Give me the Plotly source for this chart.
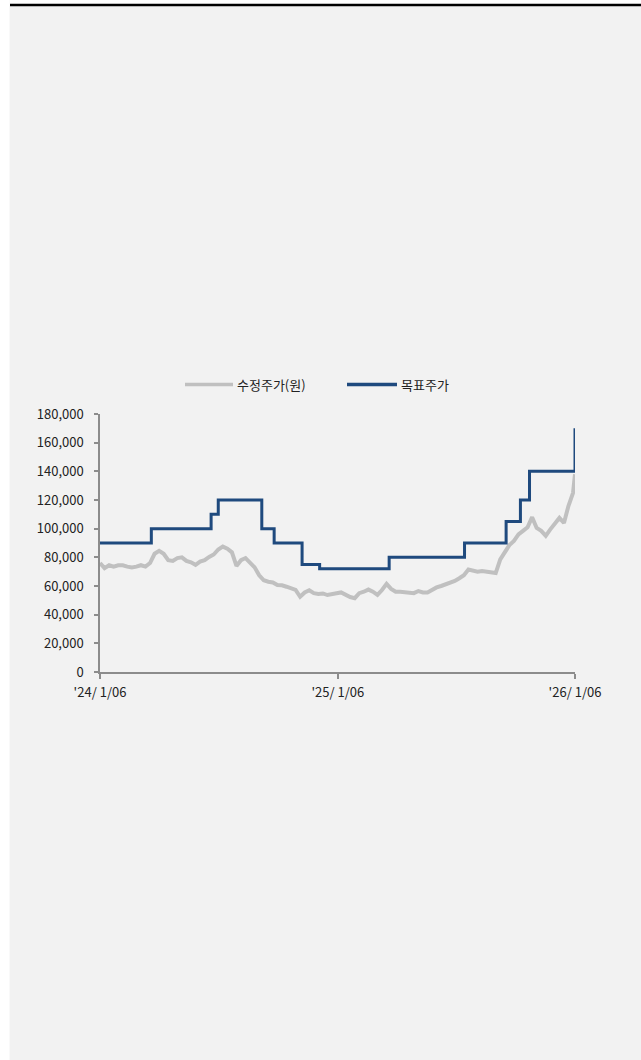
import pandas as pd
import plotly.graph_objects as go

# 수정주가 (weekly readings, won)
price_dates = list(pd.date_range("2024-01-06", periods=105, freq="7D").strftime("%Y-%m-%d")) + ["2026-01-06"]
price_values = [
    76000, 72500, 74500, 73500, 74500, 74500, 73500, 73000, 73500, 74500,
    73500, 76000, 82500, 84500, 82500, 78000, 77500, 79500, 80000, 77500,
    76500, 74800, 77000, 78000, 80300, 82000, 85500, 87500, 86000, 83500,
    74000, 78000, 79500, 76500, 73000, 67500, 64000, 63000, 62500, 60700,
    60500, 59500, 58400, 57300, 52500, 55500, 57000, 55000, 54500, 54800,
    53700, 54000, 55000, 55500, 53500, 52300, 51500, 55000, 56000, 57500,
    56000, 53800, 57200, 61500, 58000, 56000, 56000, 55500, 55000, 55000,
    56500, 55500, 55500, 57500, 59000, 60000, 61000, 62000, 63500, 65400,
    67500, 71500, 71000, 70000, 70500, 70000, 69500, 69000, 78500, 83000,
    88500, 91500, 96000, 98500, 101000, 108000, 100500, 98500, 95000, 99500,
    104000, 107500, 104000, 116000, 125000, 138000,
]

# 목표주가 (step changes, won)
target_dates = [
    "2024-01-06", "2024-03-25", "2024-06-25", "2024-07-06", "2024-09-11",
    "2024-09-30", "2024-11-12", "2024-12-09", "2025-03-26", "2025-07-20",
    "2025-09-22", "2025-10-14", "2025-10-28", "2026-01-06",
]
target_values = [
    90000, 100000, 110000, 120000, 100000,
    90000, 75000, 72000, 80000, 90000,
    105000, 120000, 140000, 170000,
]

series_names = ["수정주가(원)", "목표주가"]
series_colors = ["#c0c0c0", "#1f4a7e"]

tick_dates = ["2024-01-06", "2025-01-06", "2026-01-06"]
tick_labels = ["'24/ 1/06", "'25/ 1/06", "'26/ 1/06"]
y_ticks = list(range(0, 180001, 20000))

FONT = "Noto Sans CJK KR"
W, H = 641, 1060
L, R, T, B = 100, 66, 414, 388
pw = W - L - R
ph = H - T - B


def px_x(p):
    return (p - L) / pw


def px_y(p):
    return (H - B - p) / ph


fig = go.Figure()
fig.add_trace(go.Scatter(
    x=price_dates, y=price_values, name=series_names[0], mode="lines",
    line=dict(color=series_colors[0], width=4), showlegend=False,
))
fig.add_trace(go.Scatter(
    x=target_dates, y=target_values, name=series_names[1], mode="lines",
    line=dict(color=series_colors[1], width=3, shape="hv"), showlegend=False,
))

# legend drawn as shapes + text
leg_y = px_y(384.5)
legend_items = [(185, 233, 235), (347, 397, 399)]
shapes = [
    dict(type="rect", xref="paper", yref="paper",
         x0=px_x(0), x1=px_x(9.5), y0=px_y(H), y1=px_y(0),
         fillcolor="white", line=dict(width=0), layer="below"),
    dict(type="rect", xref="paper", yref="paper",
         x0=px_x(9.5), x1=px_x(W), y0=px_y(6), y1=px_y(0),
         fillcolor="white", line=dict(width=0), layer="below"),
    dict(type="line", xref="paper", yref="paper",
         x0=px_x(10), x1=px_x(W), y0=px_y(5), y1=px_y(5),
         line=dict(color="black", width=2.5), layer="above"),
]
annotations = []
for (x0, x1, xt), name, col in zip(legend_items, series_names, series_colors):
    shapes.append(dict(type="line", xref="paper", yref="paper",
                       x0=px_x(x0), x1=px_x(x1), y0=leg_y, y1=leg_y,
                       line=dict(color=col, width=3.5)))
    annotations.append(dict(xref="paper", yref="paper", x=px_x(xt), y=leg_y,
                            xanchor="left", yanchor="middle", showarrow=False,
                            text=name, font=dict(size=13, family=FONT, color="#222222")))

fig.update_layout(
    width=W, height=H,
    margin=dict(l=L, r=R, t=T, b=B, pad=0),
    paper_bgcolor="#f2f2f2", plot_bgcolor="#f2f2f2",
    font=dict(family=FONT, size=13, color="#222222"),
    showlegend=False,
    xaxis=dict(type="date", range=["2024-01-06", "2026-01-06"],
               tickvals=tick_dates, ticktext=tick_labels,
               showgrid=False, zeroline=False, showline=True,
               linecolor="#8c8c8c", linewidth=1.5,
               ticks="outside", ticklen=5, tickcolor="#8c8c8c", tickwidth=1.5,
               ticklabelstandoff=3,
               tickfont=dict(size=13, family=FONT, color="#222222")),
    yaxis=dict(range=[0, 180000], tickvals=y_ticks, tickformat=",",
               showgrid=False, zeroline=False, showline=True,
               linecolor="#8c8c8c", linewidth=1.5,
               ticks="outside", ticklen=4, tickcolor="#8c8c8c", tickwidth=1.5,
               ticklabelstandoff=8,
               tickfont=dict(size=13, family=FONT, color="#222222")),
    shapes=shapes,
    annotations=annotations,
)

fig.write_html(
    "out.html",
    config={"displayModeBar": False},
    post_script="document.body.style.margin='0';document.body.style.padding='0';",
)
